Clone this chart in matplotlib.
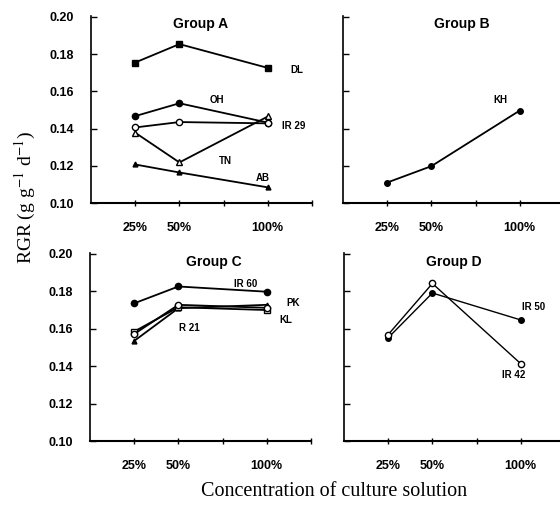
import matplotlib
matplotlib.use("Agg")
import matplotlib.pyplot as plt

# concentration of culture solution (%)
conc = [25, 50, 100]

# Group A
dl = [0.1755, 0.1854, 0.1726]
oh = [0.1467, 0.1536, 0.1432]
ir29 = [0.1406, 0.1435, 0.1428]
tn = [0.1378, 0.1218, 0.1465]
ab = [0.1207, 0.1164, 0.1084]

# Group B
kh = [0.1110, 0.1198, 0.1497]

# Group C
ir60 = [0.1736, 0.1826, 0.1798]
pk = [0.1535, 0.1710, 0.1728]
kl = [0.1585, 0.1715, 0.1700]
r21 = [0.1572, 0.1728, 0.1712]

# Group D
ir50 = [0.1552, 0.1791, 0.1647]
ir42 = [0.1569, 0.1842, 0.1413]

yticks = [0.10, 0.12, 0.14, 0.16, 0.18, 0.20]
xticks = [25, 50, 75, 100, 125]
xticklabels = ["25%", "50%", "", "100%", ""]

plt.rcParams["font.family"] = ["Liberation Sans", "DejaVu Sans"]
plt.rcParams["mathtext.fontset"] = "stix"

fig = plt.figure(figsize=(5.6, 5.07), dpi=100)
w = 221 / 560
hA = 187 / 507
hC = 188 / 507
axA = fig.add_axes([91 / 560, (507 - 203) / 507, w, hA])
axB = fig.add_axes([343 / 560, (507 - 203) / 507, w, hA])
axC = fig.add_axes([90 / 560, (507 - 441) / 507, w, hC])
axD = fig.add_axes([344 / 560, (507 - 441) / 507, w, hC])

for ax, show_y in [(axA, True), (axB, False), (axC, True), (axD, False)]:
    ax.set_xlim(0, 125)
    ax.set_ylim(0.10, 0.2005)
    ax.spines["top"].set_visible(False)
    ax.spines["right"].set_visible(False)
    ax.spines["left"].set_linewidth(1.2)
    ax.spines["bottom"].set_linewidth(1.5)
    ax.set_xticks(xticks)
    ax.set_xticklabels(xticklabels, fontsize=9, fontweight="bold")
    ax.set_yticks(yticks)
    if show_y:
        ax.set_yticklabels([f"{v:.2f}" for v in yticks], fontsize=9, fontweight="bold")
    else:
        ax.set_yticklabels([])
    ax.tick_params(axis="y", direction="in", length=4, width=1, pad=12)
    ax.tick_params(axis="x", direction="inout", length=5, width=1, pad=11)

lw = 1.3
ms = 4.5
fs_lab = 7

# Group A
axA.plot(conc, dl, color="black", lw=lw, marker="s", ms=ms)
axA.plot(conc, oh, color="black", lw=lw, marker="o", ms=ms)
axA.plot(conc, ir29, color="black", lw=lw, marker="o", ms=ms, mfc="white")
axA.plot(conc, tn, color="black", lw=lw, marker="^", ms=ms + 0.5, mfc="white")
axA.plot(conc, ab, color="black", lw=lw, marker="^", ms=ms - 1)
axA.text(62, 0.196, "Group A", fontsize=10, fontweight="bold", ha="center", va="center")
axA.text(113, 0.1715, "DL", fontsize=fs_lab, fontweight="bold", va="center")
axA.text(71, 0.1555, "OH", fontsize=fs_lab, fontweight="bold", ha="center", va="center")
axA.text(108, 0.1415, "IR 29", fontsize=fs_lab, fontweight="bold", va="center")
axA.text(76, 0.1225, "TN", fontsize=fs_lab, fontweight="bold", ha="center", va="center")
axA.text(97, 0.1135, "AB", fontsize=fs_lab, fontweight="bold", ha="center", va="center")

# Group B
axB.plot(conc, kh, color="black", lw=lw, marker="o", ms=ms - 0.5)
axB.text(67, 0.196, "Group B", fontsize=10, fontweight="bold", ha="center", va="center")
axB.text(89, 0.1555, "KH", fontsize=fs_lab, fontweight="bold", ha="center", va="center")

# Group C
axC.plot(conc, ir60, color="black", lw=lw, marker="o", ms=ms)
axC.plot(conc, pk, color="black", lw=lw, marker="^", ms=ms - 1)
axC.plot(conc, kl, color="black", lw=lw, marker="s", ms=ms - 0.5, mfc="white")
axC.plot(conc, r21, color="black", lw=lw, marker="o", ms=ms, mfc="white")
axC.text(70, 0.1955, "Group C", fontsize=10, fontweight="bold", ha="center", va="center")
axC.text(88, 0.1838, "IR 60", fontsize=fs_lab, fontweight="bold", ha="center", va="center")
axC.text(115, 0.1736, "PK", fontsize=fs_lab, fontweight="bold", ha="center", va="center")
axC.text(111, 0.1645, "KL", fontsize=fs_lab, fontweight="bold", ha="center", va="center")
axC.text(56, 0.1605, "R 21", fontsize=fs_lab, fontweight="bold", ha="center", va="center")

# Group D
axD.plot(conc, ir50, color="black", lw=1.0, marker="o", ms=ms - 0.5)
axD.plot(conc, ir42, color="black", lw=1.0, marker="o", ms=ms, mfc="white", mew=1.0)
axD.text(62, 0.1955, "Group D", fontsize=10, fontweight="bold", ha="center", va="center")
axD.text(107, 0.1715, "IR 50", fontsize=fs_lab, fontweight="bold", ha="center", va="center")
axD.text(96, 0.1355, "IR 42", fontsize=fs_lab, fontweight="bold", ha="center", va="center")

fig.text(25 / 560, 1 - 198 / 507, "RGR (g g$^{-1}$ d$^{-1}$)", rotation=90,
         ha="center", va="center", fontsize=14, family=["Liberation Serif", "DejaVu Serif"])
fig.text(334 / 560, 1 - 492 / 507, "Concentration of culture solution",
         ha="center", va="center", fontsize=14.5, family=["Liberation Serif", "DejaVu Serif"])

fig.savefig("out.png", dpi=100)
